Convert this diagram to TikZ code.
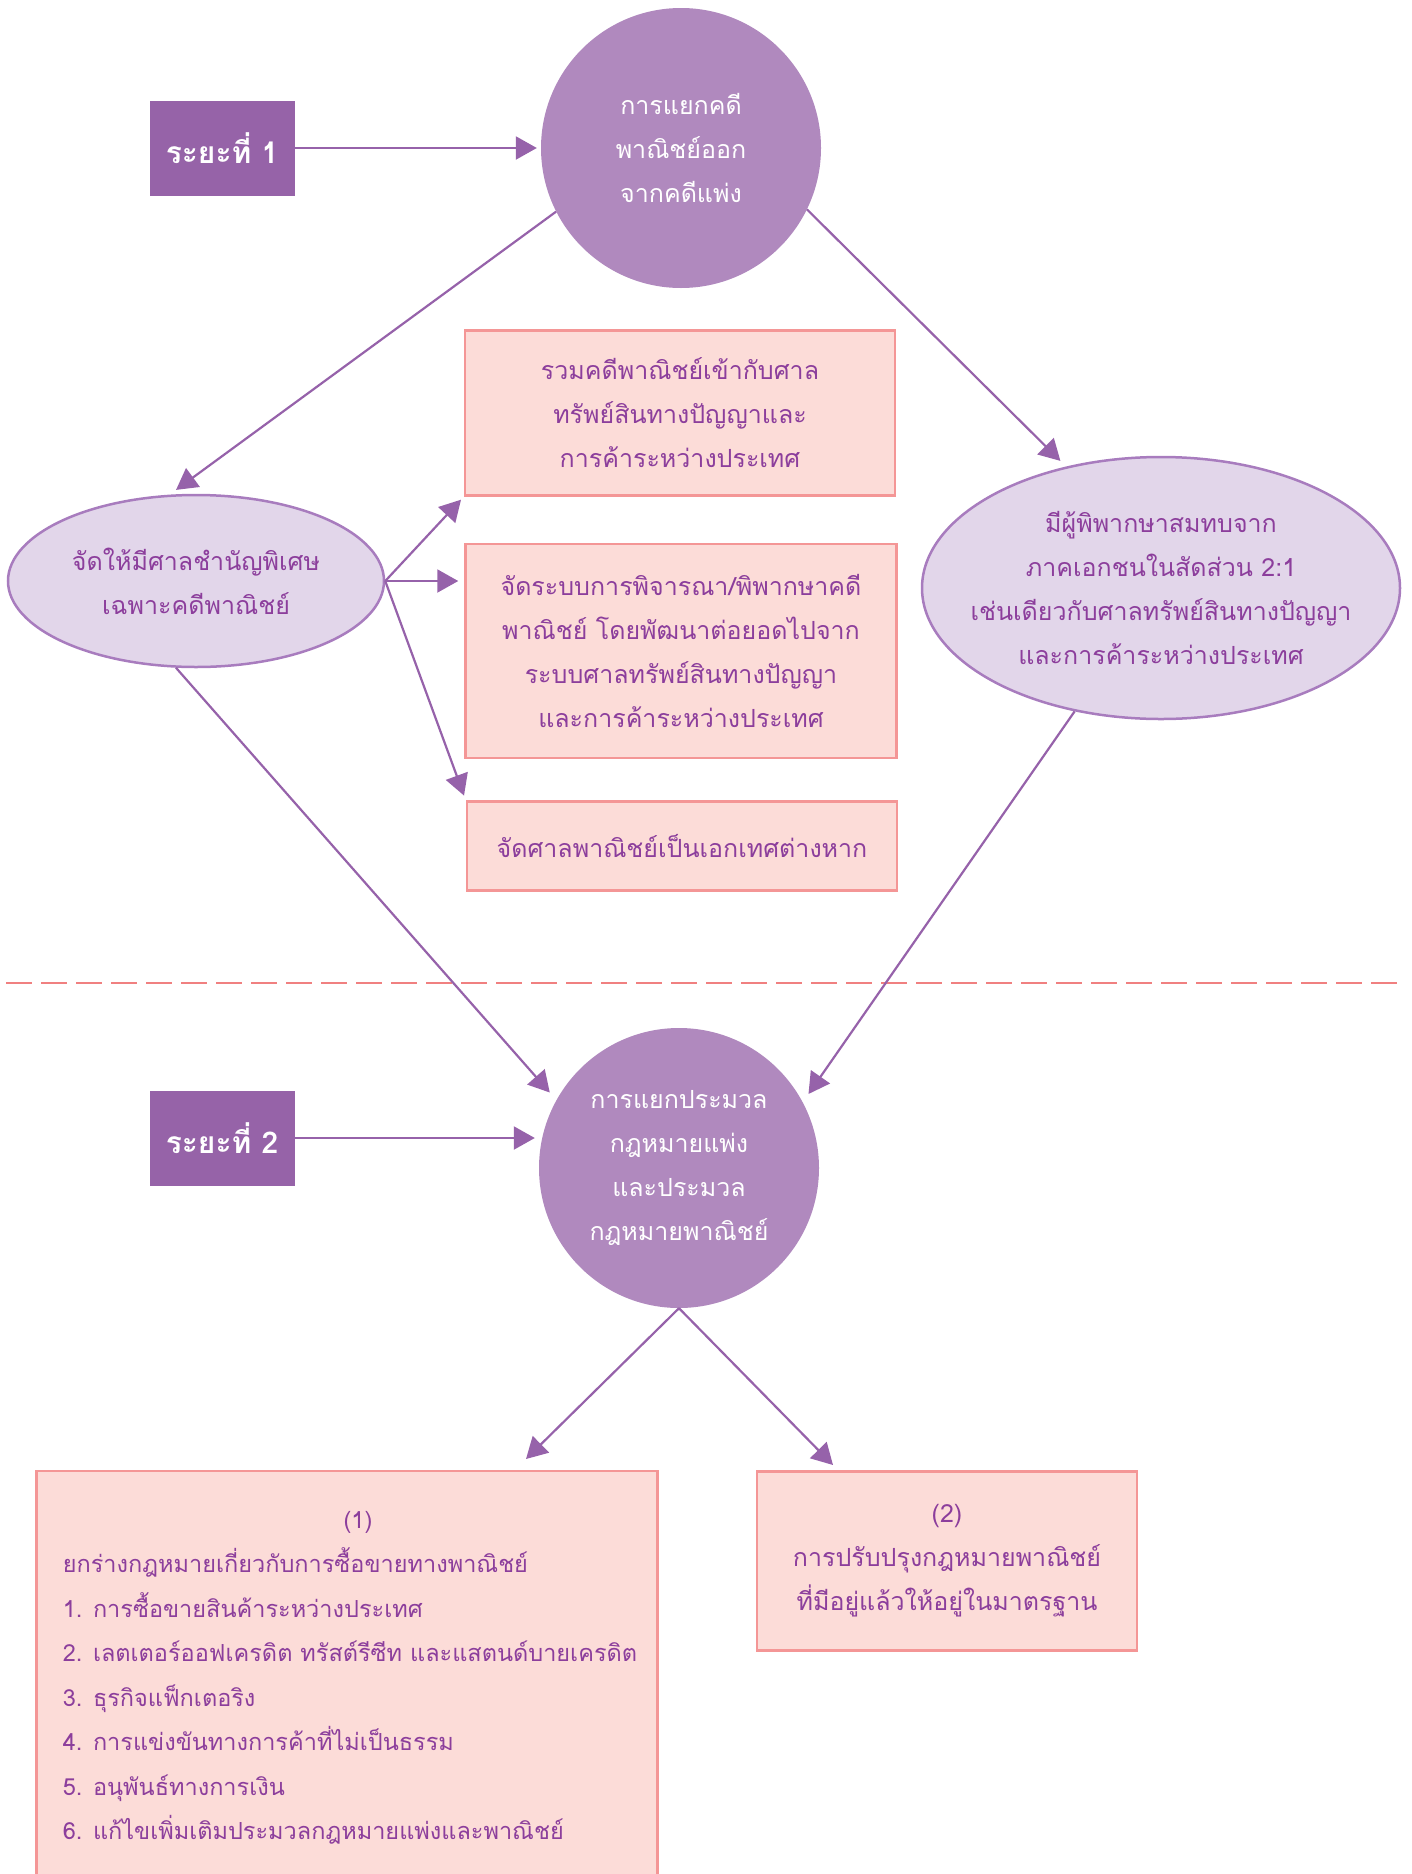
\documentclass[tikz,border=0pt]{standalone}
\usepackage{fontspec}
\setmainfont[Script=Thai]{Loma}
\usetikzlibrary{arrows.meta,shapes.geometric}
\definecolor{phasepurple}{RGB}{150,99,168}
\definecolor{circlepurple}{RGB}{176,137,190}
\definecolor{ellfill}{RGB}{226,214,234}
\definecolor{ellline}{RGB}{168,124,190}
\definecolor{pinkfill}{RGB}{252,220,216}
\definecolor{pinkline}{RGB}{244,150,150}
\definecolor{linkpurple}{RGB}{150,98,170}
\definecolor{textpurple}{RGB}{140,62,156}
\definecolor{dividerred}{RGB}{240,128,128}

\begin{document}
\begin{tikzpicture}[x=1pt,y=-1pt,
        every node/.style={font=\fontsize{25}{44}\selectfont, align=center, inner sep=0pt, text=textpurple},
        phasebox/.style={rectangle, fill=phasepurple, text=white, font=\fontsize{30}{44}\selectfont\bfseries, minimum width=145pt, minimum height=95pt},
        stagecircle/.style={circle, fill=circlepurple, text=white, minimum size=280pt},
        idea/.style={ellipse, fill=ellfill, draw=ellline, line width=2.5pt},
        option/.style={rectangle, fill=pinkfill, draw=pinkline, line width=2.5pt},
        link/.style={draw=linkpurple, line width=2.2pt, -{Triangle[length=21pt,width=23pt]}}]
        \useasboundingbox (0,0) rectangle (1412,1874);
        \clip (0,0) rectangle (1412,1874);
        \node[phasebox] (phase1) at (222,148) {ระยะที่ 1};
        \node[stagecircle] (split1) at (681,148) {การแยกคดี\\พาณิชย์ออก\\จากคดีแพ่ง};
        \node[idea, minimum width=376pt, minimum height=172pt] (court) at (196,581) {};
        \node (courttext) at (court.center) {จัดให้มีศาลชำนัญพิเศษ\\เฉพาะคดีพาณิชย์};
        \node[idea, minimum width=478pt, minimum height=262pt] (judges) at (1161,588) {};
        \node (judgestext) at (judges.center) {มีผู้พิพากษาสมทบจาก\\ภาคเอกชนในสัดส่วน 2:1\\เช่นเดียวกับศาลทรัพย์สินทางปัญญา\\และการค้าระหว่างประเทศ};
        \node[option, minimum width=430pt, minimum height=165pt] (optA) at (680,413) {รวมคดีพาณิชย์เข้ากับศาล\\ทรัพย์สินทางปัญญาและ\\การค้าระหว่างประเทศ};
        \node[option, minimum width=431pt, minimum height=214pt] (optB) at (681,651) {จัดระบบการพิจารณา/พิพากษาคดี\\พาณิชย์ โดยพัฒนาต่อยอดไปจาก\\ระบบศาลทรัพย์สินทางปัญญา\\และการค้าระหว่างประเทศ};
        \node[option, minimum width=430pt, minimum height=89pt] (optC) at (682,846) {จัดศาลพาณิชย์เป็นเอกเทศต่างหาก};
        \coordinate (divL) at (6,983);
        \coordinate (divR) at (1404,983);
        \draw[dividerred, line width=2.7pt, dash pattern=on 26pt off 9pt] (divL) -- (divR);
        \node[phasebox] (phase2) at (222,1138) {ระยะที่ 2};
        \node[stagecircle] (split2) at (679,1168) {การแยกประมวล\\กฎหมายแพ่ง\\และประมวล\\กฎหมายพาณิชย์};
        \node[option, minimum width=621pt, minimum height=460pt] (law1) at (347,1701) {};
        \node[anchor=north, font=\fontsize{23.5}{44.5}\selectfont] (law1text) at (350,1497) {\begin{tabular}{@{}l@{}}
                \multicolumn{1}{c}{\hspace{16pt}(1)}\\
                ยกร่างกฎหมายเกี่ยวกับการซื้อขายทางพาณิชย์\\
                1. การซื้อขายสินค้าระหว่างประเทศ\\
                2. เลตเตอร์ออฟเครดิต ทรัสต์รีซีท และแสตนด์บายเครดิต\\
                3. ธุรกิจแฟ็กเตอริง\\
                4. การแข่งขันทางการค้าที่ไม่เป็นธรรม\\
                5. อนุพันธ์ทางการเงิน\\
                6. แก้ไขเพิ่มเติมประมวลกฎหมายแพ่งและพาณิชย์
            \end{tabular}};
        \node[option, minimum width=380pt, minimum height=179pt] (law2) at (947,1561) {(2)\\การปรับปรุงกฎหมายพาณิชย์\\ที่มีอยู่แล้วให้อยู่ในมาตรฐาน};
        \coordinate (law1in) at (526,1459);
        \coordinate (law2in) at (833,1465);
        \draw[link, shorten >=4pt] (phase1.east) -- (phase1.east -| split1.west);
        \draw[link, shorten >=4pt] (phase2.east) -- (phase2.east -| split2.west);
        \draw[link, shorten >=8pt] (split1.207.7) -- (court.107);
        \draw[link, shorten >=8pt] (split1.334) -- (judges.128);
        \draw[link, shorten >=4pt] (court.east) -- (optA.south west);
        \draw[link, shorten >=6pt] (court.east) -- (court.east -| optB.west);
        \draw[link, shorten >=5pt] (court.east) -- (optC.north west);
        \draw[link, shorten >=10pt] (court.257) -- (split2.151);
        \draw[link, shorten >=10pt] (judges.235) -- (split2.28);
        \draw[link] (split2.south) -- (law1in);
        \draw[link] (split2.south) -- (law2in);
    \end{tikzpicture}
\end{document}
